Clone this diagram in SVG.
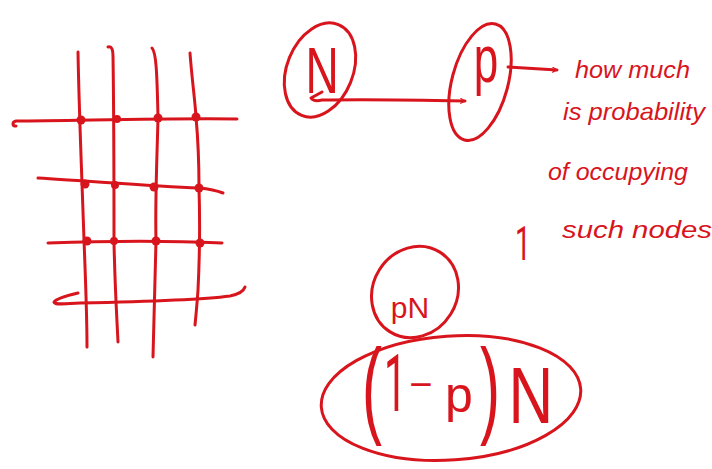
<svg xmlns="http://www.w3.org/2000/svg" width="712" height="469" viewBox="0 0 712 469">
  <style>
    .ink { fill: none; stroke: #d8151d; stroke-width: 3; stroke-linecap: round; stroke-linejoin: round; }
    .dot { fill: #d8151d; }
    .hand { fill: #d8151d; font-family: "Liberation Sans", "DejaVu Sans", sans-serif; }
    .one { fill: #d8151d; font-family: Roboto, "Open Sans", sans-serif; font-weight: 400; }
    .note { font-size: 24px; font-style: italic; }
  </style>
  <defs>
    <marker id="head" viewBox="0 0 10 10" refX="8" refY="5" markerWidth="6" markerHeight="6" orient="auto" markerUnits="userSpaceOnUse">
      <path d="M1 1 L8 5 L1 9" fill="none" stroke="#d8151d" stroke-width="2" stroke-linecap="round"/>
    </marker>
  </defs>
  <rect width="712" height="469" fill="#ffffff"/>

  <!-- lattice of sites -->
  <g id="lattice">
    <path class="ink" d="M78 52 C79 110 82 180 84 240 C86 290 87 320 87 347"/>
    <path class="ink" d="M108 47 C112 46 113 50 113 56 C114 120 114 190 114 242 C115 290 117 320 118 342"/>
    <path class="ink" d="M152 48 C156 52 157 70 158 118 C157 160 155 200 156 241 C155 290 154 330 153 357"/>
    <path class="ink" d="M190 53 C192 80 195 100 196 117 C199 150 199 170 199 188 C200 220 200 250 198 290 C197 305 196 315 195 325"/>

    <path class="ink" d="M16 126 C12 126 12 122 16 121 C70 121 160 118 237 119"/>
    <path class="ink" d="M38 178 C90 181 150 186 199 188 C210 189 218 191 223 193"/>
    <path class="ink" d="M48 243 C100 241 160 240 222 243"/>
    <path class="ink" d="M78 293 C65 296 56 299 54 302 C55 305 60 304 80 303 C130 302 200 300 230 296 C240 294 244 290 245 287"/>

    <circle class="dot" cx="81" cy="120" r="4.5"/>
    <circle class="dot" cx="117" cy="119" r="4"/>
    <circle class="dot" cx="158" cy="118" r="4.5"/>
    <circle class="dot" cx="196" cy="117" r="4.5"/>
    <circle class="dot" cx="85" cy="184" r="4.5"/>
    <circle class="dot" cx="115" cy="185" r="4"/>
    <circle class="dot" cx="154" cy="187" r="4.5"/>
    <circle class="dot" cx="199" cy="188" r="4.5"/>
    <circle class="dot" cx="87" cy="241" r="4.5"/>
    <circle class="dot" cx="114" cy="241" r="4"/>
    <circle class="dot" cx="156" cy="241" r="4.5"/>
    <circle class="dot" cx="200" cy="243" r="4.5"/>
  </g>

  <!-- N node -->
  <g id="node-N">
    <ellipse class="ink" cx="320" cy="70" rx="33" ry="49" transform="rotate(22 320 70)"/>
    <text class="hand" font-size="46" text-anchor="middle" transform="translate(322 93) scale(1 1.4)">N</text>
  </g>

  <!-- p node -->
  <g id="node-p">
    <ellipse class="ink" cx="480" cy="82" rx="28" ry="60" transform="rotate(15 480 82)"/>
    <text class="hand" font-size="44" text-anchor="middle" transform="translate(486 82) scale(1 1.5)">p</text>
  </g>

  <!-- explanatory note -->
  <g id="note">
    <text class="hand note" x="575" y="78" textLength="115" lengthAdjust="spacingAndGlyphs">how much</text>
    <text class="hand note" x="563" y="120" textLength="142" lengthAdjust="spacingAndGlyphs">is probability</text>
    <text class="hand note" x="548" y="180" textLength="140" lengthAdjust="spacingAndGlyphs">of occupying</text>
    <text class="one" font-size="28" transform="translate(515 260) scale(1 1.7)">1</text>
    <text class="hand note" x="562" y="238" textLength="150" lengthAdjust="spacingAndGlyphs">such nodes</text>
  </g>

  <!-- pN node -->
  <g id="node-pN">
    <ellipse class="ink" cx="415" cy="292" rx="42" ry="47" transform="rotate(32 415 292)"/>
    <text class="hand" x="410" y="318" font-size="30" text-anchor="middle">pN</text>
  </g>

  <!-- (1 - p) N node -->
  <g id="node-1pN">
    <ellipse class="ink" cx="451" cy="398" rx="130" ry="62" transform="rotate(-4 451 398)"/>
    <text class="hand" font-size="60" transform="translate(362 424) scale(1 1.8)">(</text>
    <text class="one" font-size="40" transform="translate(384 411) scale(1 2)">1</text>
    <text class="hand" x="421" y="398" font-size="40" text-anchor="middle">−</text>
    <text class="hand" x="459" y="412" font-size="50" text-anchor="middle">p</text>
    <text class="hand" font-size="60" transform="translate(480 424) scale(1 1.8)">)</text>
    <text class="hand" font-size="62" text-anchor="middle" transform="translate(531 423) scale(1 1.3)">N</text>
  </g>

  <!-- connectors -->
  <g id="connectors">
    <path class="ink" d="M322 92 L311 98 C313 101 318 101 322 100 C370 99 420 100 465 101" marker-end="url(#head)"/>
    <path class="ink" d="M508 67 C525 68 540 69 557 70" marker-end="url(#head)"/>
  </g>
</svg>
